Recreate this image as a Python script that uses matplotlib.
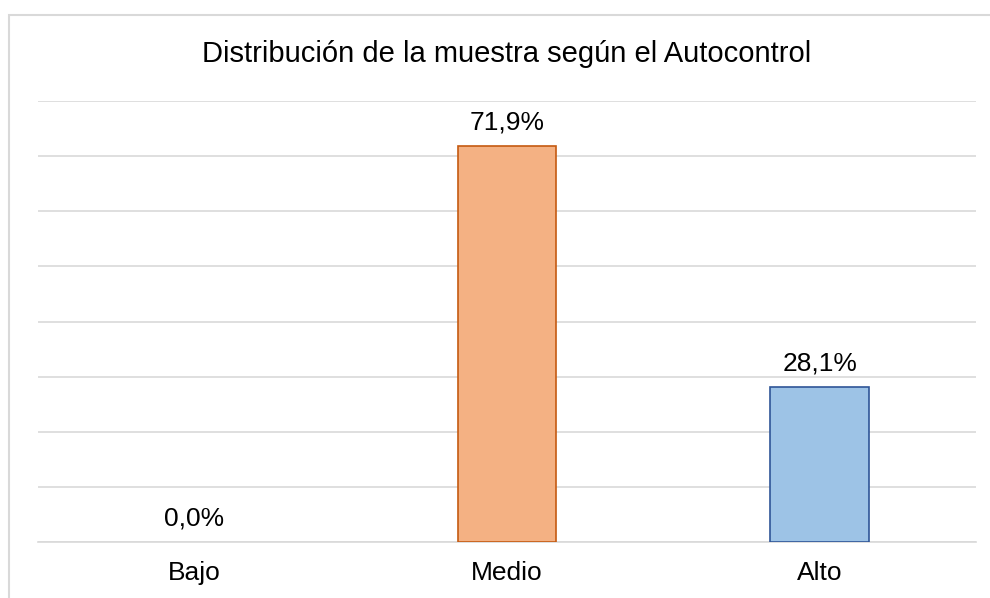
import matplotlib.pyplot as plt
from matplotlib.patches import Rectangle

categorias = ["Bajo", "Medio", "Alto"]
porcentajes = [0.0, 71.9, 28.1]
colores = ["#F4B183", "#F4B183", "#9DC3E6"]
bordes = ["#C55A11", "#C55A11", "#2F5597"]
titulo = "Distribución de la muestra según el Autocontrol"

plt.rcParams['font.family'] = ['Liberation Sans', 'DejaVu Sans']

W, H = 990, 598
fig = plt.figure(figsize=(W / 100, H / 100), dpi=100)

# borde gris del área del gráfico
fig.patches.append(Rectangle((8.5 / W, -0.01), 1.0, (H - 15) / H + 0.01,
                             transform=fig.transFigure, fill=False,
                             ec="#D9D9D9", lw=1.5))

ax = fig.add_axes([38 / W, (H - 542) / H, (976 - 38) / W, (542 - 101) / H])
x = range(len(categorias))
barras = ax.bar(x, porcentajes, width=0.315, color=colores,
                edgecolor=bordes, linewidth=1.2, zorder=3)
barras[0].set_linewidth(0)

ax.set_ylim(0, 80)
ax.set_xlim(-0.5, 2.5)
ax.set_yticks(range(0, 81, 10))
ax.grid(axis="y", color="#D9D9D9", linewidth=1.2, zorder=0)
ax.tick_params(axis="y", left=False, labelleft=False)
ax.tick_params(axis="x", length=0, labelsize=19, pad=14)
ax.set_xticks(list(x))
ax.set_xticklabels(categorias)
for s in ["top", "right", "left"]:
    ax.spines[s].set_visible(False)
ax.spines["bottom"].set_color("#D9D9D9")
ax.spines["bottom"].set_linewidth(1.2)

for i, v in enumerate(porcentajes):
    ax.annotate(f"{v:.1f}%".replace(".", ","), (i, v), xytext=(0, 8),
                textcoords="offset points", ha="center", va="bottom",
                fontsize=19)

fig.text(507 / W, (H - 54) / H, titulo, ha="center", va="center", fontsize=21)

fig.savefig("out.png", dpi=100)
